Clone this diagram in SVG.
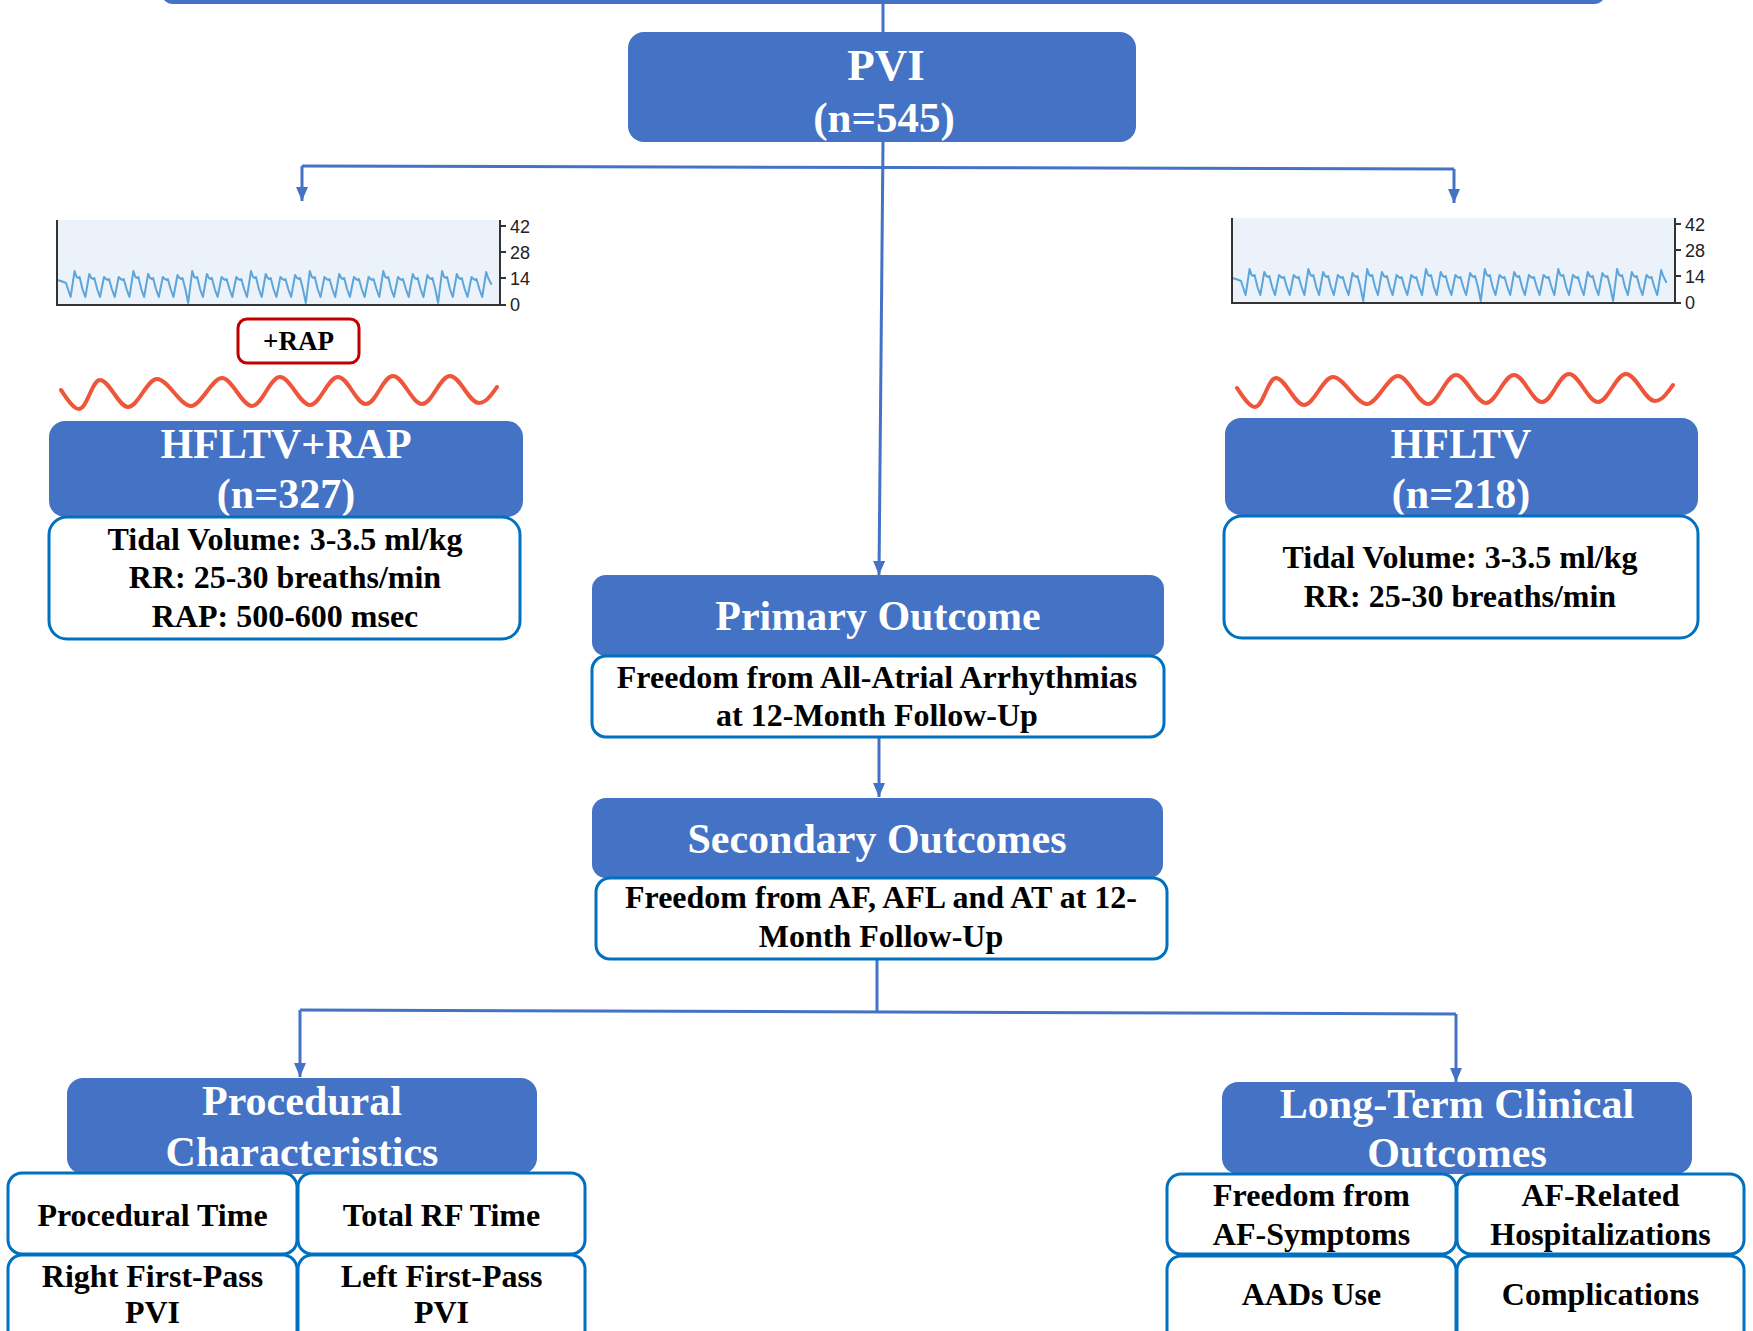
<svg xmlns="http://www.w3.org/2000/svg" xmlns:xlink="http://www.w3.org/1999/xlink" width="1753" height="1331" viewBox="0 0 1753 1331">
<style>
.hdr{fill:#4472C4}
.box{fill:#fff;stroke:#0070C0;stroke-width:3}
.ht{font-family:"Liberation Serif","Times New Roman",serif;font-weight:bold;font-size:42px;fill:#fff;text-anchor:middle}
.bt{font-family:"Liberation Serif","Times New Roman",serif;font-weight:bold;font-size:32px;fill:#000;text-anchor:middle}
.conn{stroke:#4472C4;stroke-width:3;fill:none}
.ax{stroke:#333;stroke-width:2;fill:none}
.tl{font-family:"Liberation Sans",Arial,sans-serif;font-size:18px;fill:#222}
.resp{stroke:#5DA5DA;stroke-width:2;fill:none;stroke-linejoin:round;stroke-linecap:round}
.wave{stroke:#EF553B;stroke-width:4;fill:none;stroke-linecap:round}
</style>
<defs>
<marker id="arr" viewBox="0 0 14 12" refX="14" refY="6" markerWidth="14" markerHeight="12" markerUnits="userSpaceOnUse" orient="auto">
<path d="M0,0 L14,6 L0,12 z" fill="#4472C4"/>
</marker>
<g id="chart">
<rect x="57" y="220" width="443" height="85" fill="#EBF2FA"/>
<path class="resp" d="M57,280 l4,1 l5,2 l4.6,14
l4,-26 l2,6 l2,1 l1,-1 l2.85,12 l2.85,8
l4,-23 l2,4 l2,1 l1,-1 l2.85,11 l2.85,8
l4,-20 l2,2 l2,1 l1,-1 l2.85,10 l2.85,8
l4,-20 l2,2 l2,1 l1,-1 l2.85,10 l2.85,8
l4,-26 l2,6 l2,1 l1,-1 l2.85,12 l2.85,8
l4,-23 l2,4 l2,1 l1,-1 l2.85,11 l2.85,8
l4,-20 l2,2 l2,1 l1,-1 l2.85,10 l2.85,8
l4,-22 l2,3 l2,1 l1,-1 l2.85,11 l2.85,14
l4,-32 l2,6 l2,1 l1,-1 l2.85,12 l2.85,8
l4,-23 l2,4 l2,1 l1,-1 l2.85,11 l2.85,8
l4,-20 l2,2 l2,1 l1,-1 l2.85,10 l2.85,8
l4,-20 l2,2 l2,1 l1,-1 l2.85,10 l2.85,8
l4,-26 l2,6 l2,1 l1,-1 l2.85,12 l2.85,8
l4,-23 l2,4 l2,1 l1,-1 l2.85,11 l2.85,8
l4,-20 l2,2 l2,1 l1,-1 l2.85,10 l2.85,8
l4,-22 l2,3 l2,1 l1,-1 l2.85,11 l2.85,14
l4,-32 l2,6 l2,1 l1,-1 l2.85,12 l2.85,8
l4,-20 l2,2 l2,1 l1,-1 l2.85,10 l2.85,8
l4,-23 l2,4 l2,1 l1,-1 l2.85,11 l2.85,8
l4,-20 l2,2 l2,1 l1,-1 l2.85,10 l2.85,8
l4,-20 l2,2 l2,1 l1,-1 l2.85,10 l2.85,8
l4,-26 l2,6 l2,1 l1,-1 l2.85,12 l2.85,8
l4,-20 l2,2 l2,1 l1,-1 l2.85,10 l2.85,8
l4,-23 l2,4 l2,1 l1,-1 l2.85,11 l2.85,8
l4,-22 l2,3 l2,1 l1,-1 l2.85,11 l2.85,14
l4,-32 l2,6 l2,1 l1,-1 l2.85,12 l2.85,8
l4,-23 l2,4 l2,1 l1,-1 l2.85,11 l2.85,8
l4,-20 l2,2 l2,1 l1,-1 l2.85,10 l2.85,8
l4,-25 l2,6 l3,6"/>
<path class="ax" d="M57,220 L57,306 M56,305 L506,305 M500,220 L500,306 M500,226 L506,226 M500,252 L506,252 M500,278 L506,278"/>
<text class="tl" x="510" y="232.5">42</text>
<text class="tl" x="510" y="258.5">28</text>
<text class="tl" x="510" y="284.5">14</text>
<text class="tl" x="510" y="310.5">0</text>
</g>
<path id="redwave" class="wave" d="M61,390 C66,397 73,409 79,409 C87,409 92,380 100,380 C109,380 119,407 128,407 C138,407 147,379 157,379 C168,379 180,406 191,406 C201,406 212,378 222,378 C232,378 242,406 252,406 C262,406 270,377 280,377 C290,377 300,405 310,405 C320,405 328,377 338,377 C348,377 356,404 366,404 C376,404 383,376 393,376 C403,376 412,404 422,404 C432,404 440,376 450,376 C460,376 469,403 479,403 C486,403 492,394 497,387"/>
</defs>

<g id="node-top">
<rect class="hdr" x="161" y="-40" width="1445" height="44" rx="12"/>
</g>

<g id="connectors">
<path class="conn" d="M883,4 L883,32"/>
<path class="conn" d="M883,142 L879,575" marker-end="url(#arr)"/>
<path class="conn" d="M302,166 L1454,169"/>
<path class="conn" d="M302,166 L302,201" marker-end="url(#arr)"/>
<path class="conn" d="M1454,169 L1454,203" marker-end="url(#arr)"/>
<path class="conn" d="M879,737 L879,797" marker-end="url(#arr)"/>
<path class="conn" d="M877,959 L877,1012"/>
<path class="conn" d="M300,1010 L1456,1014"/>
<path class="conn" d="M300,1010 L300,1077" marker-end="url(#arr)"/>
<path class="conn" d="M1456,1014 L1456,1082" marker-end="url(#arr)"/>
</g>

<g id="node-pvi">
<rect class="hdr" x="628" y="32" width="508" height="110" rx="16"/>
<text class="ht" x="886" y="80" style="font-size:45px">PVI</text>
<text class="ht" x="884" y="132" style="font-size:43px">(n=545)</text>
</g>

<g id="chart-left">
<use xlink:href="#chart"/>
</g>
<g id="chart-right">
<use xlink:href="#chart" transform="translate(1175,-2)"/>
</g>

<g id="node-rap">
<rect x="238" y="319" width="121" height="44" rx="9" fill="#fff" stroke="#C00000" stroke-width="3"/>
<text class="bt" x="298.5" y="350" style="font-size:27px">+RAP</text>
</g>

<g id="wave-left"><use xlink:href="#redwave"/></g>
<g id="wave-right"><use xlink:href="#redwave" transform="translate(1176,-2)"/></g>

<g id="node-hfltv-rap">
<rect class="hdr" x="49" y="421" width="474" height="96" rx="16"/>
<text class="ht" x="286" y="458">HFLTV+RAP</text>
<text class="ht" x="286" y="508">(n=327)</text>
<rect class="box" x="49" y="517" width="471" height="122" rx="18"/>
<text class="bt" x="285" y="550">Tidal Volume: 3-3.5 ml/kg</text>
<text class="bt" x="285" y="588">RR: 25-30 breaths/min</text>
<text class="bt" x="285" y="627">RAP: 500-600 msec</text>
</g>

<g id="node-hfltv">
<rect class="hdr" x="1225" y="418" width="473" height="97" rx="16"/>
<text class="ht" x="1461" y="458">HFLTV</text>
<text class="ht" x="1461" y="508">(n=218)</text>
<rect class="box" x="1224" y="516" width="474" height="122" rx="18"/>
<text class="bt" x="1460" y="568">Tidal Volume: 3-3.5 ml/kg</text>
<text class="bt" x="1460" y="607">RR: 25-30 breaths/min</text>
</g>

<g id="node-primary">
<rect class="hdr" x="592" y="575" width="572" height="81" rx="14"/>
<text class="ht" x="878" y="630">Primary Outcome</text>
<rect class="box" x="592" y="656" width="572" height="81" rx="14"/>
<text class="bt" x="877" y="688">Freedom from All-Atrial Arrhythmias</text>
<text class="bt" x="877" y="726">at 12-Month Follow-Up</text>
</g>

<g id="node-secondary">
<rect class="hdr" x="592" y="798" width="571" height="80" rx="14"/>
<text class="ht" x="877" y="853">Secondary Outcomes</text>
<rect class="box" x="596" y="878" width="571" height="81" rx="14"/>
<text class="bt" x="881" y="908">Freedom from AF, AFL and AT at 12-</text>
<text class="bt" x="881" y="947">Month Follow-Up</text>
</g>

<g id="node-procedural">
<rect class="hdr" x="67" y="1078" width="470" height="96" rx="16"/>
<text class="ht" x="302" y="1115">Procedural</text>
<text class="ht" x="302" y="1166">Characteristics</text>
<rect class="box" x="8" y="1173" width="289" height="81" rx="14"/>
<rect class="box" x="298" y="1173" width="287" height="81" rx="14"/>
<rect class="box" x="8" y="1255" width="289" height="100" rx="14"/>
<rect class="box" x="298" y="1255" width="287" height="100" rx="14"/>
<text class="bt" x="152.5" y="1226">Procedural Time</text>
<text class="bt" x="441.5" y="1226">Total RF Time</text>
<text class="bt" x="152.5" y="1287">Right First-Pass</text>
<text class="bt" x="152.5" y="1323">PVI</text>
<text class="bt" x="441.5" y="1287">Left First-Pass</text>
<text class="bt" x="441.5" y="1323">PVI</text>
</g>

<g id="node-longterm">
<rect class="hdr" x="1222" y="1082" width="470" height="92" rx="16"/>
<text class="ht" x="1457" y="1118">Long-Term Clinical</text>
<text class="ht" x="1457" y="1167">Outcomes</text>
<rect class="box" x="1167" y="1174" width="289" height="80" rx="14"/>
<rect class="box" x="1457" y="1174" width="287" height="80" rx="14"/>
<rect class="box" x="1167" y="1256" width="289" height="100" rx="14"/>
<rect class="box" x="1457" y="1256" width="287" height="100" rx="14"/>
<text class="bt" x="1311.5" y="1206">Freedom from</text>
<text class="bt" x="1311.5" y="1245">AF-Symptoms</text>
<text class="bt" x="1600.5" y="1206">AF-Related</text>
<text class="bt" x="1600.5" y="1245">Hospitalizations</text>
<text class="bt" x="1311.5" y="1305">AADs Use</text>
<text class="bt" x="1600.5" y="1305">Complications</text>
</g>
</svg>
